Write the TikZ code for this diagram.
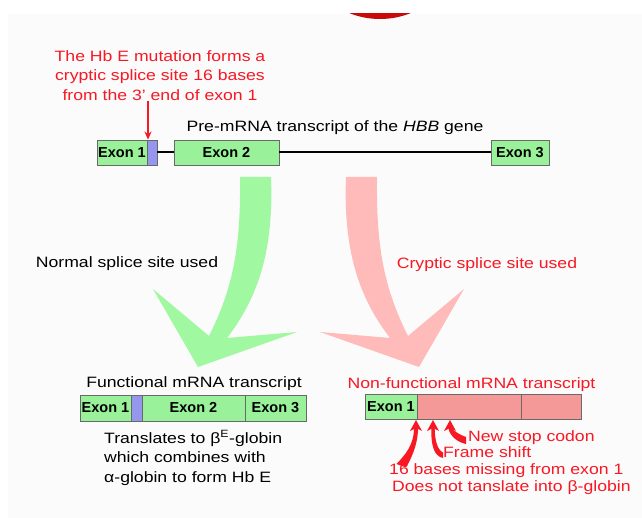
\documentclass[tikz,border=0pt]{standalone}
\usepackage{fontspec}
\setmainfont{Liberation Sans}[FakeStretch=1.175]
\newfontfamily\exfont{Liberation Sans}
\usetikzlibrary{arrows.meta}
\definecolor{exgreen}{RGB}{153,242,153}
\definecolor{exblue}{RGB}{150,150,238}
\definecolor{expink}{RGB}{245,152,152}
\definecolor{argreen}{RGB}{160,248,160}
\definecolor{arpink}{RGB}{255,186,186}
\definecolor{txtred}{RGB}{248,24,36}
\definecolor{bordergray}{RGB}{105,105,105}
\definecolor{bggray}{RGB}{251,251,251}
\definecolor{topred}{RGB}{200,10,10}
\begin{document}
\begin{tikzpicture}[x=1pt,y=-1pt,
  box/.style={draw=bordergray, line width=0.8pt, inner sep=0pt, minimum height=24pt,
    font=\exfont\bfseries\fontsize{14.5}{16}\selectfont},
  gbox/.style={box, fill=exgreen},
  bbox/.style={box, fill=exblue},
  pbox/.style={box, fill=expink},
  lbl/.style={inner sep=0pt, text height=11pt, text depth=3.5pt, font=\fontsize{15}{19.5}\selectfont},
  rlbl/.style={lbl, text=txtred},
  mlbl/.style={inner sep=0pt, font=\fontsize{15}{19.5}\selectfont},
  intron/.style={draw=black, line width=2pt},
  redarr/.style={draw=txtred, line width=1.6pt, -{Stealth[length=8pt,width=7pt]}},
  smallred/.style={fill=txtred}
]
\useasboundingbox (0,0) rectangle (642,518);
\fill[bggray] (8,14) rectangle (642,518);
\begin{scope}
  \clip (300,14) rectangle (460,30);
  \fill[topred] (380,-40) ellipse [x radius=70, y radius=59];
\end{scope}

% top pre-mRNA
\node[mlbl, text=txtred, align=center] (mut) at (160,75.5) {The Hb E mutation forms a\\cryptic splice site 16 bases\\from the 3' end of exon 1};
\node[lbl] (pre) at (335,128) {Pre-mRNA transcript of the \textit{HBB} gene};
\node[gbox, minimum width=50pt, minimum height=25pt] (e1) at (122,152.5) {Exon 1};
\node[bbox, minimum width=10pt, minimum height=25pt] (b1) at (152,152.5) {};
\node[gbox, minimum width=105pt, minimum height=25pt] (e2) at (226.5,152.5) {Exon 2};
\node[gbox, minimum width=58pt, minimum height=25pt] (e3) at (520,152.5) {Exon 3};
\draw[intron] (b1.east) -- (e2.west);
\draw[intron] (e2.east) -- (e3.west);
\coordinate (mt) at (148,101);
\draw[redarr] (mt) -- (mt |- e1.north);

% big arrows
\fill[argreen] (240,177) -- (271,177) .. controls (274,255) and (256,300) .. (227,338)
  -- (297,332) -- (198,367) -- (153,289) -- (209,336)
  .. controls (232,290) and (241,250) .. (240,177) -- cycle;
\fill[arpink] (346,177) -- (377,177) .. controls (376,250) and (385,290) .. (408,336)
  -- (464,289) -- (419,367) -- (320,332) -- (390,338)
  .. controls (361,300) and (343,255) .. (346,177) -- cycle;

\node[lbl] (norm) at (127,264) {Normal splice site used};
\node[rlbl] (cryp) at (487,265) {Cryptic splice site used};

% functional transcript
\node[lbl] (funct) at (194,384) {Functional mRNA transcript};
\node[gbox, minimum width=51pt, minimum height=26pt] (f1) at (105.5,408) {Exon 1};
\node[bbox, minimum width=11pt, minimum height=26pt] (fb) at (136.5,408) {};
\node[gbox, minimum width=103pt, minimum height=26pt] (f2) at (193.5,408) {Exon 2};
\node[gbox, minimum width=61pt, minimum height=26pt] (f3) at (275.5,408) {Exon 3};
\node[mlbl, align=left, anchor=north west] (transl) at (104,430.5) {Translates to β\textsuperscript{E}-globin\\which combines with\\α-globin to form Hb E};

% non-functional transcript
\node[rlbl] (nonf) at (471.5,385) {Non-functional mRNA transcript};
\node[gbox, minimum width=52pt, minimum height=25pt] (n1) at (391,407) {Exon 1};
\node[pbox, minimum width=104pt, minimum height=25pt] (n2) at (469,407) {};
\node[pbox, minimum width=60pt, minimum height=25pt] (n3) at (551,407) {};

\node[rlbl, anchor=west] (stop) at (468,438) {New stop codon};
\node[rlbl, anchor=west] (shift) at (443,454) {Frame shift};
\node[rlbl, anchor=west] (miss) at (389,470.5) {16 bases missing from exon 1};
\node[rlbl, anchor=west] (dnt) at (392,487.5) {Does not tanslate into β-globin};

% small red arrows
\fill[smallred] (416,420) -- (422,431) -- (416,428) -- (410,431) -- cycle;
\fill[smallred] (414,428) .. controls (414,445) and (405,455) .. (396.5,464)
  -- (406,467.5) .. controls (414.5,453) and (418,440) .. (418,428) -- cycle;
\fill[smallred] (433,420) -- (439,431) -- (433,428) -- (427,431) -- cycle;
\fill[smallred] (431.3,428) .. controls (431,446) and (434,456) .. (443,458)
  -- (443,452.5) .. controls (437.5,450) and (434.7,440) .. (434.7,428) -- cycle;
\fill[smallred] (450,420) -- (456,431) -- (450,428) -- (444,431) -- cycle;
\fill[smallred] (448.3,428) .. controls (450,436) and (457,442) .. (466,444)
  -- (466,437) .. controls (460,435) and (453.7,431) .. (451.7,428) -- cycle;
\end{tikzpicture}
\end{document}
